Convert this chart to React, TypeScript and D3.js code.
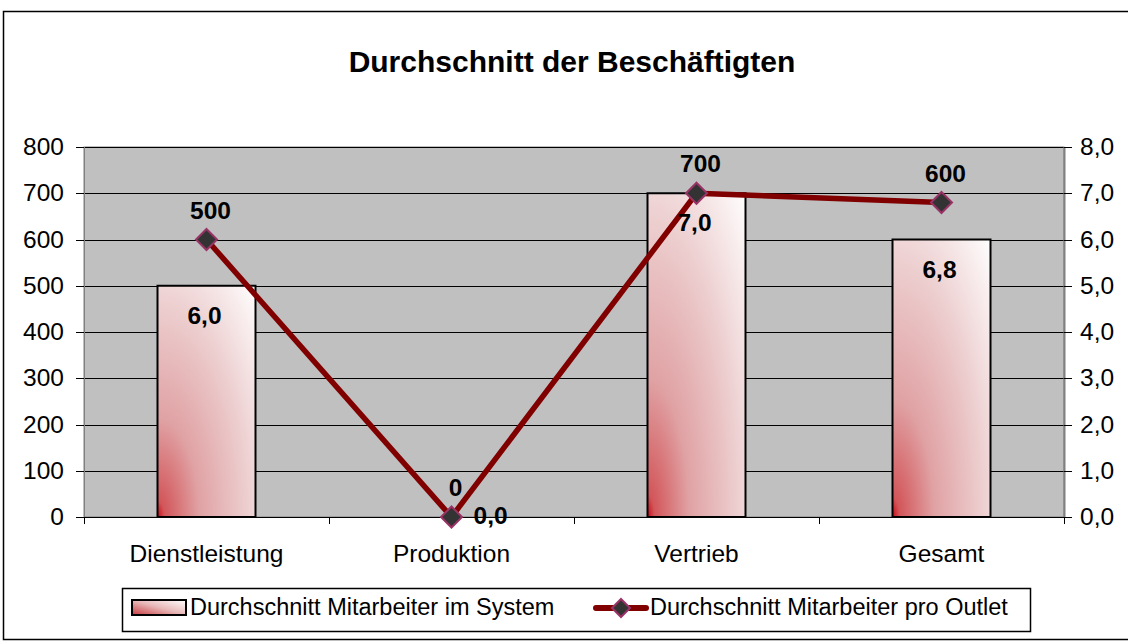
import React from "react";
import * as d3 from "d3";

const categories = ["Dienstleistung", "Produktion", "Vertrieb", "Gesamt"];
const barValues = [500, 0, 700, 600];
const lineValues = [6.0, 0.0, 7.0, 6.8];
const leftTicks = [0, 100, 200, 300, 400, 500, 600, 700, 800];
const rightTicks = [0, 1, 2, 3, 4, 5, 6, 7, 8];
const title = "Durchschnitt der Beschäftigten";
const barSeriesName = "Durchschnitt Mitarbeiter im System";
const lineSeriesName = "Durchschnitt Mitarbeiter pro Outlet";

const W = 1128;
const H = 641;
const plot = { left: 84, right: 1064, top: 147, bottom: 517 };
const FONT = "'Liberation Sans', Arial, sans-serif";

const fmt1 = (v: number) => v.toFixed(1).replace(".", ",");

export default function App() {
  const x = d3
    .scaleBand<string>()
    .domain(categories)
    .range([plot.left, plot.right])
    .paddingInner(0)
    .paddingOuter(0);
  const yL = d3.scaleLinear().domain([0, 800]).range([plot.bottom, plot.top]);
  const yR = d3.scaleLinear().domain([0, 8]).range([plot.bottom, plot.top]);
  const bw = x.bandwidth() * 0.4;
  const cx = (c: string) => (x(c) as number) + x.bandwidth() / 2;

  const lineGen = d3
    .line<number>()
    .x((_, i) => cx(categories[i]))
    .y((d) => yR(d));

  const diamond = (px: number, py: number, r: number) =>
    `M${px},${py - r}L${px + r},${py}L${px},${py + r}L${px - r},${py}Z`;

  const boundaries = d3.range(categories.length + 1).map((i) => plot.left + i * x.bandwidth());

  return (
    <svg
      width={W}
      height={H}
      style={{ position: "absolute", left: 0, top: 0, background: "#fff" }}
      fontFamily={FONT}
    >
      <defs>
        <radialGradient id="barGrad" cx="0" cy="1" r="1.42" fx="0" fy="1">
          <stop offset="0" stopColor="#c80a14" />
          <stop offset="0.05" stopColor="#d2565a" />
          <stop offset="0.3" stopColor="#e0a2a4" />
          <stop offset="0.65" stopColor="#edcfd0" />
          <stop offset="1" stopColor="#ffffff" />
        </radialGradient>
        <linearGradient id="legGrad" x1="0" y1="1" x2="1" y2="0">
          <stop offset="0" stopColor="#c83a40" />
          <stop offset="0.5" stopColor="#e8b8b8" />
          <stop offset="1" stopColor="#ffffff" />
        </linearGradient>
      </defs>

      {/* chart frame */}
      <rect x={3.5} y={11.5} width={1140} height={628} fill="#fff" stroke="#000" strokeWidth={1.5} />

      {/* title */}
      <text x={572} y={72} textAnchor="middle" fontWeight="bold" fontSize={30}>
        {title}
      </text>

      {/* plot area */}
      <rect
        x={plot.left}
        y={plot.top}
        width={plot.right - plot.left}
        height={plot.bottom - plot.top}
        fill="#c0c0c0"
        stroke="#808080"
        strokeWidth={1}
      />

      {/* gridlines */}
      {leftTicks.slice(1).map((t) => (
        <line
          key={"g" + t}
          x1={plot.left}
          x2={plot.right}
          y1={Math.round(yL(t)) + 0.5}
          y2={Math.round(yL(t)) + 0.5}
          stroke="#000"
          strokeWidth={1}
        />
      ))}

      {/* right axis line */}
      <line x1={plot.right + 0.5} x2={plot.right + 0.5} y1={plot.top} y2={plot.bottom} stroke="#808080" strokeWidth={2} />

      {/* bars */}
      {categories.map((c, i) =>
        barValues[i] > 0 ? (
          <rect
            key={"b" + c}
            x={cx(c) - bw / 2}
            y={yL(barValues[i])}
            width={bw}
            height={plot.bottom - yL(barValues[i])}
            fill="url(#barGrad)"
            stroke="#000"
            strokeWidth={2}
          />
        ) : null
      )}

      {/* x axis */}
      <line x1={plot.left} x2={plot.right} y1={plot.bottom + 0.5} y2={plot.bottom + 0.5} stroke="#000" strokeWidth={1} />
      {boundaries.map((bx, i) => (
        <line key={"xt" + i} x1={bx + 0.5} x2={bx + 0.5} y1={plot.bottom} y2={plot.bottom + 7} stroke="#000" />
      ))}

      {/* left axis */}
      <line x1={plot.left + 0.5} x2={plot.left + 0.5} y1={plot.top} y2={plot.bottom} stroke="#808080" />
      {leftTicks.map((t) => (
        <g key={"lt" + t}>
          <line x1={plot.left - 8} x2={plot.left} y1={Math.round(yL(t)) + 0.5} y2={Math.round(yL(t)) + 0.5} stroke="#000" />
          <text x={64} y={yL(t) + 8} textAnchor="end" fontSize={24.5}>
            {t}
          </text>
        </g>
      ))}

      {/* right axis */}
      {rightTicks.map((t) => (
        <g key={"rt" + t}>
          <line x1={plot.right} x2={plot.right + 8} y1={Math.round(yR(t)) + 0.5} y2={Math.round(yR(t)) + 0.5} stroke="#000" />
          <text x={1080} y={yR(t) + 8} textAnchor="start" fontSize={24.5}>
            {fmt1(t)}
          </text>
        </g>
      ))}

      {/* category labels */}
      {categories.map((c) => (
        <text key={"c" + c} x={cx(c)} y={562} textAnchor="middle" fontSize={24.5}>
          {c}
        </text>
      ))}

      {/* line */}
      <path d={lineGen(lineValues) || ""} fill="none" stroke="#800000" strokeWidth={5.5} strokeLinejoin="round" />
      {lineValues.map((v, i) => (
        <path
          key={"m" + i}
          d={diamond(cx(categories[i]), yR(v), 10.5)}
          fill="#333333"
          stroke="#993366"
          strokeWidth={2}
        />
      ))}

      {/* data labels */}
      {categories.map((c, i) => (
        <text
          key={"bl" + c}
          x={cx(c) + 4}
          y={yR(lineValues[i]) - 21}
          textAnchor="middle"
          fontSize={24.5}
          fontWeight="bold"
        >
          {barValues[i]}
        </text>
      ))}
      {categories.map((c, i) =>
        barValues[i] > 0 ? (
          <text
            key={"ll" + c}
            x={cx(c) - 2}
            y={yL(barValues[i]) + 38}
            textAnchor="middle"
            fontSize={24.5}
            fontWeight="bold"
          >
            {fmt1(lineValues[i])}
          </text>
        ) : (
          <text
            key={"ll" + c}
            x={cx(c) + 22}
            y={yR(lineValues[i]) + 7}
            textAnchor="start"
            fontSize={24.5}
            fontWeight="bold"
          >
            {fmt1(lineValues[i])}
          </text>
        )
      )}

      {/* legend */}
      <rect x={122.5} y={588.5} width={908} height={43} fill="#fff" stroke="#000" strokeWidth={1.5} />
      <rect x={132} y={600} width={54} height={15} fill="url(#legGrad)" stroke="#000" strokeWidth={2} />
      <text x={190} y={615} fontSize={23.5}>
        {barSeriesName}
      </text>
      <line x1={596} x2={646} y1={608} y2={608} stroke="#800000" strokeWidth={6} strokeLinecap="round" />
      <path d={diamond(621, 608, 9)} fill="#333333" stroke="#993366" strokeWidth={2} />
      <text x={650} y={615} fontSize={23.5}>
        {lineSeriesName}
      </text>
    </svg>
  );
}
